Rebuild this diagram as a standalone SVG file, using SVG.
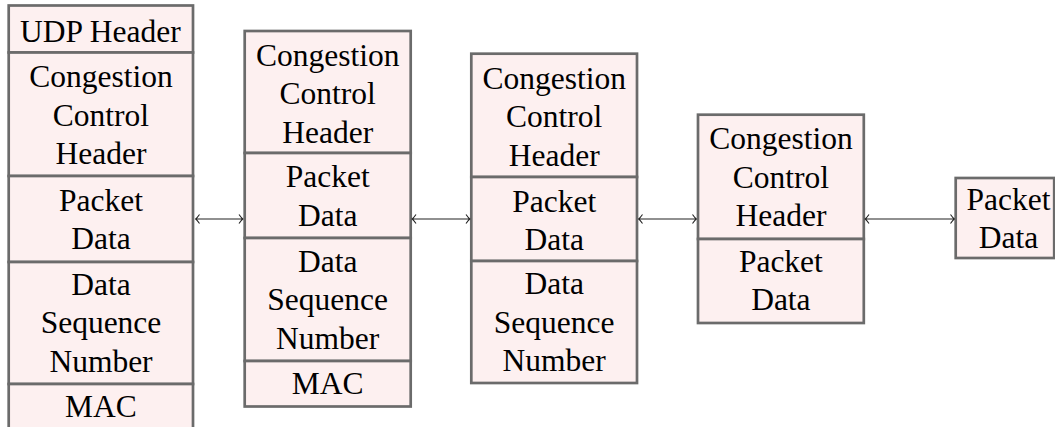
<svg xmlns="http://www.w3.org/2000/svg" width="1055" height="427" viewBox="0 0 1055 427">
<style>
.cell{fill:#fdf0f0;stroke:#6b6b6b;stroke-width:2.7}
.c{stroke:#222;stroke-width:1.1;fill:none}
</style>
<rect width="1055" height="427" fill="#fff"/>
<g id="stack1">
<rect class="cell" x="8.7" y="5.5" width="184.3" height="47"/>
<rect class="cell" x="8.7" y="52.5" width="184.3" height="123.5"/>
<rect class="cell" x="8.7" y="176" width="184.3" height="86"/>
<rect class="cell" x="8.7" y="262" width="184.3" height="122"/>
<rect class="cell" x="8.7" y="384" width="184.3" height="80"/>
<text font-family="Liberation Serif" font-size="31.5" x="20.1" y="41.5">UDP Header</text>
<text font-family="Liberation Serif" font-size="31.5" x="29.25" y="87.3">Congestion</text>
<text font-family="Liberation Serif" font-size="31.5" x="52.85" y="125.8">Control</text>
<text font-family="Liberation Serif" font-size="31.5" x="55.55" y="164.3">Header</text>
<text font-family="Liberation Serif" font-size="31.5" x="59" y="210.8">Packet</text>
<text font-family="Liberation Serif" font-size="31.5" x="71.25" y="249.3">Data</text>
<text font-family="Liberation Serif" font-size="31.5" x="71.25" y="295">Data</text>
<text font-family="Liberation Serif" font-size="31.5" x="40.65" y="333.3">Sequence</text>
<text font-family="Liberation Serif" font-size="31.5" x="49.4" y="371.7">Number</text>
<text font-family="Liberation Serif" font-size="31.5" x="65.1" y="416.7">MAC</text>
</g>
<g id="stack2">
<rect class="cell" x="244.7" y="31" width="166" height="122"/>
<rect class="cell" x="244.7" y="153" width="166" height="85"/>
<rect class="cell" x="244.7" y="238" width="166" height="123"/>
<rect class="cell" x="244.7" y="361" width="166" height="45.5"/>
<text font-family="Liberation Serif" font-size="31.5" x="255.95" y="65.8">Congestion</text>
<text font-family="Liberation Serif" font-size="31.5" x="279.55" y="104.3">Control</text>
<text font-family="Liberation Serif" font-size="31.5" x="282.25" y="142.8">Header</text>
<text font-family="Liberation Serif" font-size="31.5" x="285.7" y="187.3">Packet</text>
<text font-family="Liberation Serif" font-size="31.5" x="297.95" y="225.5">Data</text>
<text font-family="Liberation Serif" font-size="31.5" x="297.95" y="271.5">Data</text>
<text font-family="Liberation Serif" font-size="31.5" x="267.35" y="310">Sequence</text>
<text font-family="Liberation Serif" font-size="31.5" x="276.1" y="348.5">Number</text>
<text font-family="Liberation Serif" font-size="31.5" x="291.8" y="394.3">MAC</text>
</g>
<g id="stack3">
<rect class="cell" x="471.3" y="53.7" width="165.7" height="123.3"/>
<rect class="cell" x="471.3" y="177" width="165.7" height="84"/>
<rect class="cell" x="471.3" y="261" width="165.7" height="122"/>
<text font-family="Liberation Serif" font-size="31.5" x="482.45" y="88.5">Congestion</text>
<text font-family="Liberation Serif" font-size="31.5" x="506.05" y="127">Control</text>
<text font-family="Liberation Serif" font-size="31.5" x="508.75" y="165.5">Header</text>
<text font-family="Liberation Serif" font-size="31.5" x="512.2" y="211.5">Packet</text>
<text font-family="Liberation Serif" font-size="31.5" x="524.45" y="250">Data</text>
<text font-family="Liberation Serif" font-size="31.5" x="524.45" y="294">Data</text>
<text font-family="Liberation Serif" font-size="31.5" x="493.85" y="332.5">Sequence</text>
<text font-family="Liberation Serif" font-size="31.5" x="502.6" y="371">Number</text>
</g>
<g id="stack4">
<rect class="cell" x="698" y="114.7" width="165.8" height="124.3"/>
<rect class="cell" x="698" y="239" width="165.8" height="84"/>
<text font-family="Liberation Serif" font-size="31.5" x="709.15" y="149.3">Congestion</text>
<text font-family="Liberation Serif" font-size="31.5" x="732.75" y="187.5">Control</text>
<text font-family="Liberation Serif" font-size="31.5" x="735.45" y="225.7">Header</text>
<text font-family="Liberation Serif" font-size="31.5" x="738.9" y="271.7">Packet</text>
<text font-family="Liberation Serif" font-size="31.5" x="751.15" y="310">Data</text>
</g>
<g id="stack5">
<rect class="cell" x="955.7" y="178" width="98.5" height="80"/>
<text font-family="Liberation Serif" font-size="31.5" x="966.5" y="210">Packet</text>
<text font-family="Liberation Serif" font-size="31.5" x="978.8" y="247.7">Data</text>
</g>
<g id="connectors">
<path class="c" d="M196,219 H242.5 M199.5,214.5 Q197,218 195.7,219 Q197,220 199.5,223.5 M239,214.5 Q241.5,218 242.8,219 Q241.5,220 239,223.5"/>
<path class="c" d="M412.5,219 H469.5 M416,214.5 Q413.5,218 412.2,219 Q413.5,220 416,223.5 M466,214.5 Q468.5,218 469.8,219 Q468.5,220 466,223.5"/>
<path class="c" d="M639,219 H696 M642.5,214.5 Q640,218 638.7,219 Q640,220 642.5,223.5 M692.5,214.5 Q695,218 696.3,219 Q695,220 692.5,223.5"/>
<path class="c" d="M865.5,219 H954 M869,214.5 Q866.5,218 865.2,219 Q866.5,220 869,223.5 M950.5,214.5 Q953,218 954.3,219 Q953,220 950.5,223.5"/>
</g>
</svg>
